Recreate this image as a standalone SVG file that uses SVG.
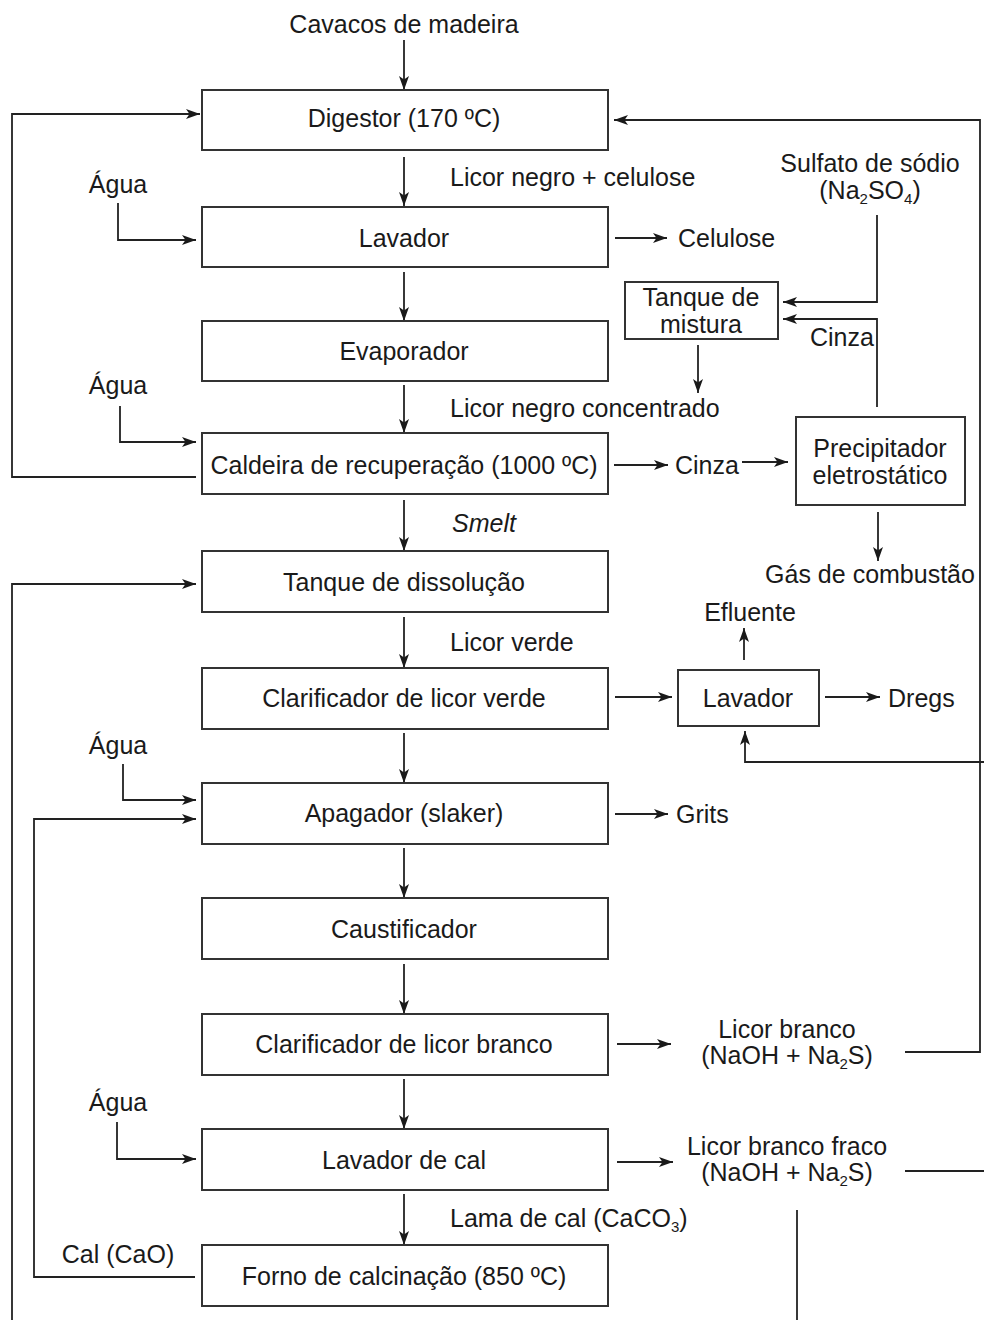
<svg xmlns="http://www.w3.org/2000/svg" width="984" height="1320" viewBox="0 0 984 1320">
<defs>
<marker id="ah" markerUnits="userSpaceOnUse" markerWidth="16" markerHeight="12" refX="14" refY="5" orient="auto">
<path d="M0,0 L14,5 L0,10 L3.5,5 z" fill="#1a1a1a"/>
</marker>
<style>
.box{fill:#fff;stroke:#333;stroke-width:2}
.c{fill:none;stroke:#222;stroke-width:1.8}
.a{fill:none;stroke:#222;stroke-width:1.8;marker-end:url(#ah)}
text{font-family:"Liberation Sans",Arial,sans-serif;font-size:25px;fill:#1a1a1a}
.m{text-anchor:middle}
.sub{font-size:15px}
</style>
</defs>
<rect width="984" height="1320" fill="#fff"/>

<g id="connectors">
<line class="a" x1="404" y1="40" x2="404" y2="90"/>
<line class="a" x1="404" y1="157" x2="404" y2="206"/>
<line class="a" x1="404" y1="272" x2="404" y2="321"/>
<line class="a" x1="404" y1="385" x2="404" y2="433"/>
<line class="a" x1="404" y1="500" x2="404" y2="551"/>
<line class="a" x1="404" y1="617" x2="404" y2="668"/>
<line class="a" x1="404" y1="733" x2="404" y2="783"/>
<line class="a" x1="404" y1="848" x2="404" y2="898"/>
<line class="a" x1="404" y1="964" x2="404" y2="1014"/>
<line class="a" x1="404" y1="1079" x2="404" y2="1129"/>
<line class="a" x1="404" y1="1194" x2="404" y2="1245"/>

<line class="a" x1="615" y1="238" x2="667" y2="238"/>
<line class="a" x1="614" y1="465" x2="668" y2="465"/>
<line class="a" x1="742" y1="462" x2="788" y2="462"/>
<line class="a" x1="615" y1="697" x2="672" y2="697"/>
<line class="a" x1="825" y1="697" x2="880" y2="697"/>
<line class="a" x1="744" y1="660" x2="744" y2="628"/>
<polyline class="a" points="984,762 745,762 745,731"/>
<line class="a" x1="615" y1="814" x2="668" y2="814"/>
<line class="a" x1="617" y1="1044" x2="671" y2="1044"/>
<line class="a" x1="617" y1="1162" x2="673" y2="1162"/>
<polyline class="a" points="905,1052 980,1052 980,120 614,120"/>
<polyline class="c" points="905,1171 984,1171"/>
<line class="c" x1="797" y1="1210" x2="797" y2="1320"/>
<polyline class="a" points="877,215 877,302 783,302"/>
<polyline class="a" points="877,407 877,319 783,319"/>
<line class="a" x1="698" y1="345" x2="698" y2="393"/>
<line class="a" x1="878" y1="512" x2="878" y2="561"/>

<polyline class="a" points="196,477 12,477 12,114 200,114"/>
<polyline class="a" points="118,203 118,240 196,240"/>
<polyline class="a" points="120,406 120,442 196,442"/>
<polyline class="a" points="12,1320 12,584 196,584"/>
<polyline class="a" points="123,764 123,800 196,800"/>
<polyline class="a" points="195,1277 34,1277 34,819 196,819"/>
<polyline class="a" points="117,1122 117,1159 196,1159"/>
</g>

<g id="digestor"><rect class="box" x="202" y="90" width="406" height="60"/><text class="m" x="404" y="127">Digestor (170 ºC)</text></g>
<g id="lavador"><rect class="box" x="202" y="207" width="406" height="60"/><text class="m" x="404" y="247">Lavador</text></g>
<g id="evaporador"><rect class="box" x="202" y="321" width="406" height="60"/><text class="m" x="404" y="360">Evaporador</text></g>
<g id="caldeira"><rect class="box" x="202" y="433" width="406" height="61"/><text class="m" x="404" y="474">Caldeira de recuperação (1000 ºC)</text></g>
<g id="tanque-dissolucao"><rect class="box" x="202" y="551" width="406" height="61"/><text class="m" x="404" y="591">Tanque de dissolução</text></g>
<g id="clarificador-verde"><rect class="box" x="202" y="668" width="406" height="61"/><text class="m" x="404" y="707">Clarificador de licor verde</text></g>
<g id="apagador"><rect class="box" x="202" y="783" width="406" height="61"/><text class="m" x="404" y="822">Apagador (slaker)</text></g>
<g id="caustificador"><rect class="box" x="202" y="898" width="406" height="61"/><text class="m" x="404" y="938">Caustificador</text></g>
<g id="clarificador-branco"><rect class="box" x="202" y="1014" width="406" height="61"/><text class="m" x="404" y="1053">Clarificador de licor branco</text></g>
<g id="lavador-cal"><rect class="box" x="202" y="1129" width="406" height="61"/><text class="m" x="404" y="1169">Lavador de cal</text></g>
<g id="forno"><rect class="box" x="202" y="1245" width="406" height="61"/><text class="m" x="404" y="1285">Forno de calcinação (850 ºC)</text></g>
<g id="tanque-mistura"><rect class="box" x="625" y="282" width="153" height="57"/><text class="m" x="701" y="306">Tanque de</text><text class="m" x="701" y="333">mistura</text></g>
<g id="precipitador"><rect class="box" x="796" y="417" width="169" height="88"/><text class="m" x="880" y="457">Precipitador</text><text class="m" x="880" y="484">eletrostático</text></g>
<g id="lavador-dregs"><rect class="box" x="678" y="670" width="141" height="56"/><text class="m" x="748" y="707">Lavador</text></g>

<g id="labels">
<text class="m" x="404" y="33">Cavacos de madeira</text>
<text x="450" y="186">Licor negro + celulose</text>
<text x="678" y="247">Celulose</text>
<text class="m" x="118" y="193">Água</text>
<text class="m" x="118" y="394">Água</text>
<text x="450" y="417">Licor negro concentrado</text>
<text x="675" y="474">Cinza</text>
<text class="m" x="870" y="172">Sulfato de sódio</text>
<text class="m" x="870" y="199">(Na<tspan class="sub" dy="5">2</tspan><tspan dy="-5">SO</tspan><tspan class="sub" dy="5">4</tspan><tspan dy="-5">)</tspan></text>
<text x="810" y="346">Cinza</text>
<text class="m" x="870" y="583">Gás de combustão</text>
<text x="452" y="532" font-style="italic">Smelt</text>
<text x="450" y="651">Licor verde</text>
<text class="m" x="750" y="621">Efluente</text>
<text x="888" y="707">Dregs</text>
<text class="m" x="118" y="754">Água</text>
<text x="676" y="823">Grits</text>
<text class="m" x="787" y="1038">Licor branco</text>
<text class="m" x="787" y="1064">(NaOH + Na<tspan class="sub" dy="5">2</tspan><tspan dy="-5">S)</tspan></text>
<text class="m" x="118" y="1111">Água</text>
<text class="m" x="787" y="1155">Licor branco fraco</text>
<text class="m" x="787" y="1181">(NaOH + Na<tspan class="sub" dy="5">2</tspan><tspan dy="-5">S)</tspan></text>
<text x="450" y="1227">Lama de cal (CaCO<tspan class="sub" dy="5">3</tspan><tspan dy="-5">)</tspan></text>
<text class="m" x="118" y="1263">Cal (CaO)</text>
</g>
</svg>
